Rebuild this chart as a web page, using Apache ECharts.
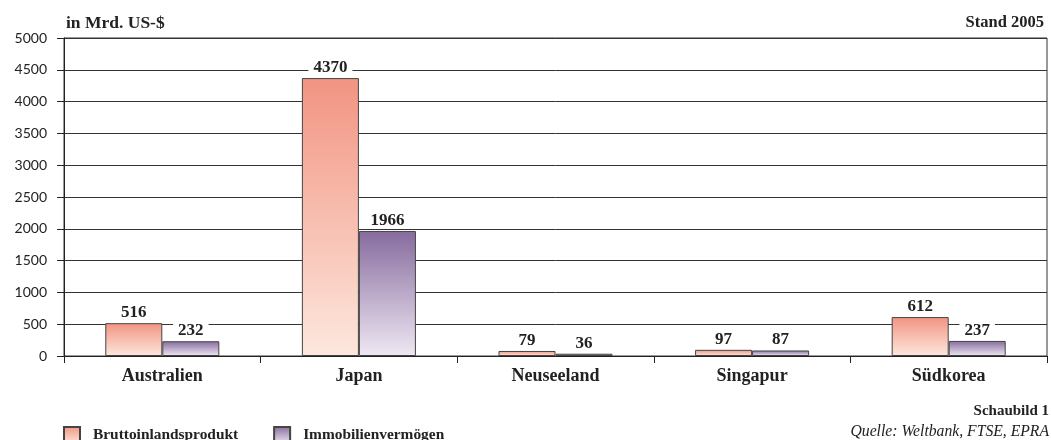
<!DOCTYPE html>
<html>
<head>
<meta charset="utf-8">
<script src="https://cdn.jsdelivr.net/npm/echarts@6/dist/echarts.min.js"></script>
<style>
  html, body { margin: 0; padding: 0; background: #fff; }
  #chart { width: 1051px; height: 440px; }
</style>
</head>
<body>
<div id="chart"></div>
<script>
// Länder und Werte in Mrd. US-$ (Stand 2005)
const countries = ['Australien', 'Japan', 'Neuseeland', 'Singapur', 'Südkorea'];
const bip = [516, 4370, 79, 97, 612];
const immobilien = [232, 1966, 36, 87, 237];
const seriesNames = ['Bruttoinlandsprodukt', 'Immobilienvermögen'];

const serif = '"Liberation Serif", "DejaVu Serif", serif';
const sans = '"Lato", "DejaVu Sans", sans-serif';
const ink = '#222';

function grad(top, bottom) {
  return new echarts.graphic.LinearGradient(0, 0, 0, 1, [
    { offset: 0, color: top },
    { offset: 1, color: bottom }
  ]);
}

const valueLabel = {
  show: true,
  position: 'top',
  distance: 2,
  fontFamily: serif,
  fontWeight: 'bold',
  fontSize: 17,
  color: ink,
  backgroundColor: '#fff',
  padding: [0, 5, 0, 5]
};

const chart = echarts.init(document.getElementById('chart'), null, { renderer: 'canvas' });
chart.setOption({
  animation: false,
  backgroundColor: '#fff',
  grid: {
    left: 64, right: 4, top: 38, bottom: 84,
    show: true, borderColor: '#333', borderWidth: 1
  },
  title: [
    { text: 'in Mrd. US-$', left: 66, top: 14, padding: 0,
      textStyle: { fontFamily: serif, fontWeight: 'bold', fontSize: 17.5, color: ink } },
    { text: 'Stand 2005', right: 7, top: 14, padding: 0,
      textStyle: { fontFamily: serif, fontWeight: 'bold', fontSize: 16.5, color: ink } },
    { text: 'Schaubild 1', right: 2, top: 404, padding: 0,
      textStyle: { fontFamily: serif, fontWeight: 'bold', fontSize: 15, color: ink } },
    { text: 'Quelle: Weltbank, FTSE, EPRA', right: 2, top: 424, padding: 0,
      textStyle: { fontFamily: serif, fontStyle: 'italic', fontWeight: 'normal', fontSize: 15.7, color: ink } }
  ],
  legend: {
    left: 63, top: 426, padding: 0,
    itemWidth: 16, itemHeight: 16, itemGap: 35,
    icon: 'rect',
    textStyle: { fontFamily: serif, fontWeight: 'bold', fontSize: 15.4, color: ink, padding: [0, 0, 0, 8] },
    data: seriesNames
  },
  xAxis: {
    type: 'category',
    data: countries,
    axisLine: { lineStyle: { color: ink, width: 1 } },
    axisTick: { show: true, length: 7, lineStyle: { color: ink } },
    axisLabel: { fontFamily: serif, fontWeight: 'bold', fontSize: 18, color: ink, margin: 11 }
  },
  yAxis: {
    type: 'value',
    min: 0, max: 5000, interval: 500,
    axisLine: { show: true, lineStyle: { color: ink } },
    axisTick: { show: true, length: 7, lineStyle: { color: ink } },
    axisLabel: { fontFamily: sans, fontSize: 14, color: ink, margin: 17,
      formatter: v => String(v) },
    splitLine: { lineStyle: { color: '#333', width: 1 } }
  },
  series: [
    {
      name: seriesNames[0], type: 'bar', data: bip,
      barCategoryGap: '42%', barGap: '0%',
      itemStyle: { color: grad('#f29482', '#fde7dd'), borderColor: '#444', borderWidth: 1 },
      label: valueLabel
    },
    {
      name: seriesNames[1], type: 'bar', data: immobilien,
      barCategoryGap: '42%', barGap: '0%',
      itemStyle: { color: grad('#866b9e', '#efe8f3'), borderColor: '#444', borderWidth: 1 },
      label: valueLabel
    }
  ]
});
</script>
</body>
</html>
